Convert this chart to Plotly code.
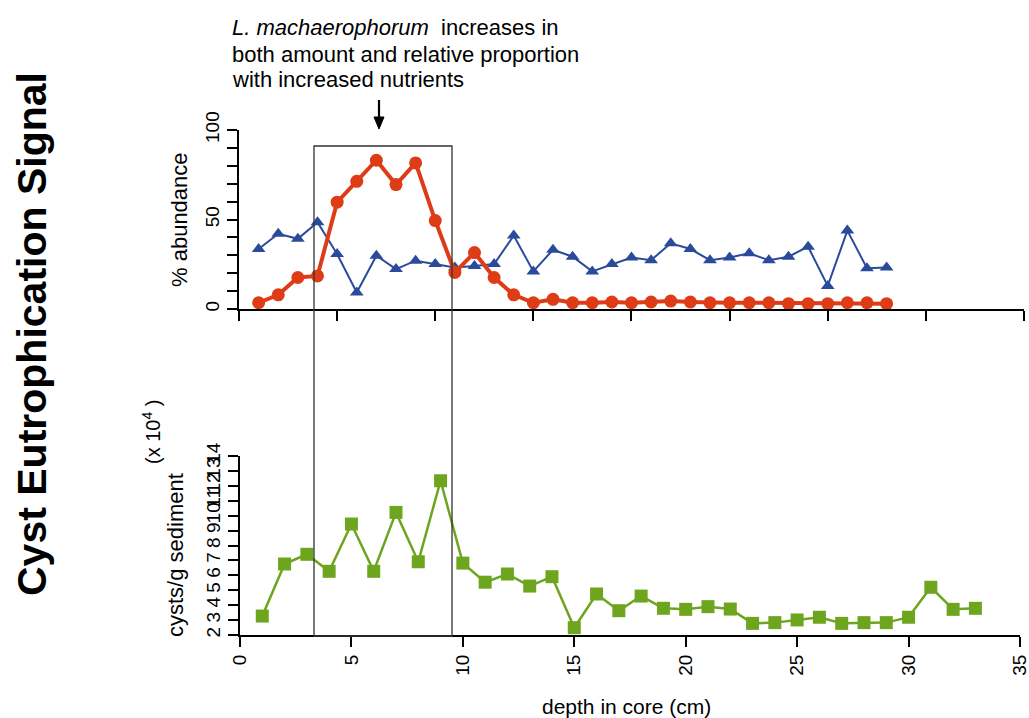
import plotly.graph_objects as go

# ---------------- data ----------------
depth = list(range(1, 34))

lmach_pct = [3.5, 7.9, 17.6, 18.5, 59.7, 71.3, 83.1, 69.5, 81.6, 49.4, 20.4, 31.5,
             17.6, 7.9, 3.5, 5.4, 3.5, 3.5, 3.9, 3.5, 3.9, 4.4, 3.9, 3.5, 3.5, 3.5,
             3.5, 3.0, 3.0, 3.0, 3.5, 3.5, 3.0]

other_pct = [33.5, 42.0, 39.2, 48.5, 30.7, 9.2, 29.8, 22.3, 27.0, 25.1, 23.2, 24.0,
             25.1, 41.0, 21.0, 33.1, 29.2, 21.0, 25.1, 28.8, 27.3, 36.7, 33.5, 27.3,
             28.8, 31.1, 27.3, 29.2, 34.8, 12.9, 43.8, 22.8, 23.2]

cysts_e4 = [3.27, 6.76, 7.41, 6.27, 9.44, 6.27, 10.22, 6.91, 12.34, 6.82, 5.54, 6.09,
            5.28, 5.91, 2.49, 4.75, 3.63, 4.61, 3.79, 3.72, 3.90, 3.74, 2.78, 2.83,
            3.01, 3.19, 2.78, 2.83, 2.83, 3.19, 5.20, 3.72, 3.79]

top_x_ticks = [0, 5, 10, 15, 20, 25, 30, 35, 40]
top_y_ticks = [0, 50, 100]
bottom_x_ticks = [0, 5, 10, 15, 20, 25, 30, 35]
bottom_y_ticks = list(range(2, 15))

# ---------------- layout helpers (pixel -> paper) ----------------
W, H = 1029, 718
ML, MR, MT, MB = 239, 5, 130, 83
PW = W - ML - MR
PH = H - MT - MB


def px(p):
    return (p - ML) / PW


def py(p):
    return (H - MB - p) / PH


FONT = "Liberation Sans, Arial, Helvetica, sans-serif"
RED = "#DE3B17"
BLUE = "#2A4B9B"
GREEN = "#6EA51F"

fig = go.Figure()

fig.add_trace(go.Scatter(
    x=depth, y=other_pct, mode="lines+markers", xaxis="x", yaxis="y",
    line=dict(color=BLUE, width=2),
    marker=dict(symbol="triangle-up", size=12, color=BLUE),
    cliponaxis=False, showlegend=False))

fig.add_trace(go.Scatter(
    x=depth, y=lmach_pct, mode="lines+markers", xaxis="x", yaxis="y",
    line=dict(color=RED, width=4),
    marker=dict(symbol="circle", size=13, color=RED),
    cliponaxis=False, showlegend=False))

fig.add_trace(go.Scatter(
    x=depth, y=cysts_e4, mode="lines+markers", xaxis="x2", yaxis="y2",
    line=dict(color=GREEN, width=2.5),
    marker=dict(symbol="square", size=13, color=GREEN),
    cliponaxis=False, showlegend=False))

axis_common = dict(showline=True, linewidth=2, linecolor="black", ticks="outside",
                   ticklen=10, tickwidth=2, tickcolor="black", showgrid=False,
                   zeroline=False, ticklabeloverflow="allow", automargin=False,
                   tickfont=dict(family=FONT, size=19, color="black"))

fig.update_layout(
    width=W, height=H,
    margin=dict(l=ML, r=MR, t=MT, b=MB, autoexpand=False),
    paper_bgcolor="white", plot_bgcolor="white",
    font=dict(family=FONT, color="black"),
    xaxis=dict(domain=[0, 1], anchor="y", range=[0, 40.001], tickvals=top_x_ticks,
               showticklabels=False, **axis_common),
    yaxis=dict(domain=[py(309), 1], anchor="x", range=[0, 100.001], tickvals=top_y_ticks,
               ticktext=[str(v) for v in top_y_ticks], tickangle=-90,
               minor=dict(dtick=10, tick0=0, ticks="outside", ticklen=10, tickwidth=2,
                          tickcolor="black", showgrid=False),
               **axis_common),
    xaxis2=dict(domain=[px(240), px(1020)], anchor="y2", range=[0, 35.001],
                tickvals=bottom_x_ticks, ticktext=[str(v) for v in bottom_x_ticks],
                tickangle=-90, **axis_common),
    yaxis2=dict(domain=[0, py(456)], anchor="x2", range=[2, 14.001],
                tickvals=bottom_y_ticks, ticktext=[str(v) for v in bottom_y_ticks],
                tickangle=-90, **axis_common),
)

# highlight box spanning both panels
fig.add_shape(type="rect", xref="paper", yref="paper",
              x0=px(314), x1=px(452), y0=py(636), y1=py(146),
              line=dict(color="#333333", width=1.3), fillcolor="rgba(0,0,0,0)")

# downward arrow (shaft + head)
fig.add_shape(type="line", xref="paper", yref="paper",
              x0=px(379), x1=px(379), y0=py(100), y1=py(120),
              line=dict(color="black", width=2.2))
fig.add_shape(type="path", xref="paper", yref="paper",
              path=f"M {px(374)} {py(117)} L {px(384)} {py(117)} L {px(379)} {py(129)} Z",
              fillcolor="black", line=dict(color="black", width=1))

ann = []
# axis titles
ann.append(dict(text="% abundance", x=px(179), y=py(220), textangle=-90,
                font=dict(size=22)))
ann.append(dict(text="cysts/g sediment", x=px(175), y=py(555), textangle=-90,
                font=dict(size=22)))
ann.append(dict(text="(x 10<sup>4</sup> )", x=px(151), y=py(432), textangle=-90,
                font=dict(size=20)))
ann.append(dict(text="depth in core (cm)", x=px(626), y=py(706),
                font=dict(size=21)))
# side title
ann.append(dict(text="<b>Cyst Eutrophication Signal</b>", x=px(32), y=py(334),
                textangle=-90, font=dict(size=41)))
# explanatory text
lines = ["<i>L. machaerophorum</i>\u00a0 increases in",
         "both amount and relative proportion",
         "with increased nutrients"]
for ln, yc in zip(lines, [27, 54, 80]):
    ann.append(dict(text=ln, x=px(230), y=py(yc), xanchor="left",
                    font=dict(size=22)))

for a in ann:
    a.setdefault("xanchor", "center")
    a.update(xref="paper", yref="paper", showarrow=False, yanchor="middle")
    fig.add_annotation(**a)

fig.write_html("out.html", config={"displayModeBar": False},
               post_script="document.body.style.margin='0';document.body.style.padding='0';")
